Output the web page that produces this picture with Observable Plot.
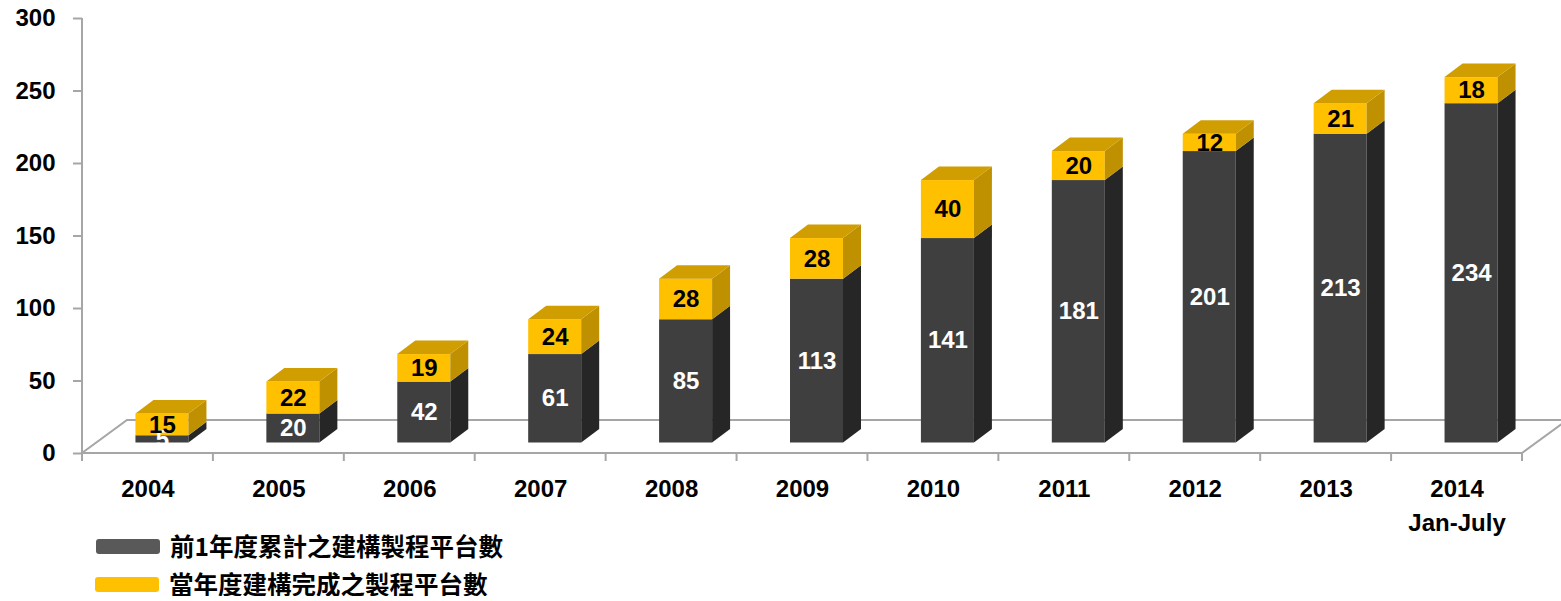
<!DOCTYPE html>
<html>
<head>
<meta charset="utf-8">
<script src="https://cdn.jsdelivr.net/npm/d3@7"></script>
<script src="https://cdn.jsdelivr.net/npm/@observablehq/plot@0.6"></script>
<style>
  html, body { margin: 0; padding: 0; background: #fff; overflow: hidden; }
  #chart svg { display: block; }
  .legend { font-family: "Noto Sans CJK TC", "Noto Sans", sans-serif; font-weight: bold; font-size: 24.5px; line-height: 24px; color: #000; }
  .row { display: flex; align-items: center; height: 24px; }
  .row .txt { display: inline-block; height: 24px; line-height: 24px; overflow: visible; }
  .sw { display: inline-block; width: 64px; height: 15px; border-radius: 3px; margin-right: 10px; }
</style>
</head>
<body>
<div id="chart"></div>
<div class="legend" id="legend"></div>
<script>
const years = ["2004","2005","2006","2007","2008","2009","2010","2011","2012","2013","2014"];
const yearLabels = ["2004","2005","2006","2007","2008","2009","2010","2011","2012","2013","2014\nJan-July"];
const prior = [5, 20, 42, 61, 85, 113, 141, 181, 201, 213, 234];
const added = [15, 22, 19, 24, 28, 28, 40, 20, 12, 21, 18];
const seriesNames = ["前1年度累計之建構製程平台數", "當年度建構完成之製程平台數"];
const yTicks = [0, 50, 100, 150, 200, 250, 300];

const palette = {
  dark:   {front: "#3f3f3f", side: "#262626", top: "#333333", legend: "#595959", label: "#ffffff"},
  yellow: {front: "#ffc000", side: "#bf9000", top: "#d09e00", legend: "#ffc000", label: "#000000"}
};

// segments table built from the arrays
const segments = [];
years.forEach((yr, i) => {
  segments.push({year: yr, series: seriesNames[0], key: "dark", v0: 0, v1: prior[i], value: prior[i]});
  segments.push({year: yr, series: seriesNames[1], key: "yellow", v0: prior[i], v1: prior[i] + added[i], value: added[i]});
});

// 3D styling constants (pixels)
const FLOOR_DX = 45, FLOOR_DY = 33;
const BAR_W = 53, BAR_OFF_X = 14.5, BAR_OFF_Y = 10.5, DEPTH_X = 18, DEPTH_Y = 13.5;
const GRID = "#a6a6a6";

function floorMark(index, scales) {
  const {x, y} = scales;
  const [x0, x1] = x.range();
  const y0 = y(0), yTop = y(yTicks[yTicks.length - 1]);
  const g = d3.create("svg:g").attr("stroke", GRID).attr("stroke-width", 2).attr("fill", "none");
  g.append("line").attr("x1", x0).attr("x2", x0).attr("y1", yTop).attr("y2", y0);
  g.append("path").attr("d",
    `M${x0},${y0}L${x1},${y0}L${x1 + FLOOR_DX},${y0 - FLOOR_DY}L${x0 + FLOOR_DX},${y0 - FLOOR_DY}Z`);
  const bounds = years.map(d => x(d)).concat([x(years[years.length - 1]) + x.bandwidth()]);
  bounds.forEach(b => g.append("line").attr("x1", b).attr("x2", b).attr("y1", y0).attr("y2", y0 + 8));
  return g.node();
}

function barsMark(index, scales) {
  const {x, y} = scales;
  const bw = x.bandwidth();
  const g = d3.create("svg:g");
  years.forEach((yr) => {
    const cx = x(yr) + bw / 2 + BAR_OFF_X;
    const L = cx - BAR_W / 2, R = cx + BAR_W / 2;
    const segs = segments.filter(s => s.year === yr);
    segs.forEach((s, j) => {
      const c = palette[s.key];
      const yb = y(s.v0) - BAR_OFF_Y, yt = y(s.v1) - BAR_OFF_Y;
      g.append("rect").attr("x", L).attr("y", yt).attr("width", R - L).attr("height", yb - yt).attr("fill", c.front);
      g.append("path").attr("fill", c.side)
        .attr("d", `M${R},${yb}L${R + DEPTH_X},${yb - DEPTH_Y}L${R + DEPTH_X},${yt - DEPTH_Y}L${R},${yt}Z`);
      if (j === segs.length - 1) {
        g.append("path").attr("fill", c.top)
          .attr("d", `M${L},${yt}L${R},${yt}L${R + DEPTH_X},${yt - DEPTH_Y}L${L + DEPTH_X},${yt - DEPTH_Y}Z`);
      }
    });
  });
  return g.node();
}

const chart = Plot.plot({
  width: 1561,
  height: 530,
  marginTop: 18,
  marginBottom: 77,
  marginLeft: 82,
  marginRight: 39,
  style: {fontFamily: "'Liberation Sans', Arial, sans-serif", background: "#fff", overflow: "visible"},
  x: {type: "band", domain: years, padding: 0, round: false, axis: null},
  y: {domain: [0, 300], axis: null},
  marks: [
    floorMark,
    Plot.axisY({ticks: yTicks, tickSize: 9, tickPadding: 18, fontSize: 24, fontWeight: "bold",
      stroke: GRID, strokeWidth: 2, fill: "#000", label: null}),
    barsMark,
    Plot.text(segments, {
      x: "year", y: d => (d.v0 + d.v1) / 2, text: d => String(d.value),
      dx: BAR_OFF_X, dy: -BAR_OFF_Y,
      fill: d => palette[d.key].label, fontSize: 24, fontWeight: "bold"
    }),
    Plot.text(years, {
      x: d => d, text: (d, i) => yearLabels[i], frameAnchor: "bottom",
      dy: 19, lineAnchor: "top", lineHeight: 1.43, fontSize: 24, fontWeight: "bold", fill: "#000"
    })
  ]
});
document.getElementById("chart").appendChild(chart);

const legend = document.getElementById("legend");
seriesNames.forEach((name, i) => {
  const key = i === 0 ? "dark" : "yellow";
  const row = document.createElement("div");
  row.className = "row";
  row.style.marginLeft = (i === 0 ? 96 : 95) + "px";
  row.style.marginTop = (i === 0 ? 4 : 14) + "px";
  const sw = document.createElement("span");
  sw.className = "sw";
  sw.style.background = palette[key].legend;
  const t = document.createElement("span");
  t.className = "txt";
  t.textContent = name;
  row.appendChild(sw);
  row.appendChild(t);
  legend.appendChild(row);
});
</script>
</body>
</html>
